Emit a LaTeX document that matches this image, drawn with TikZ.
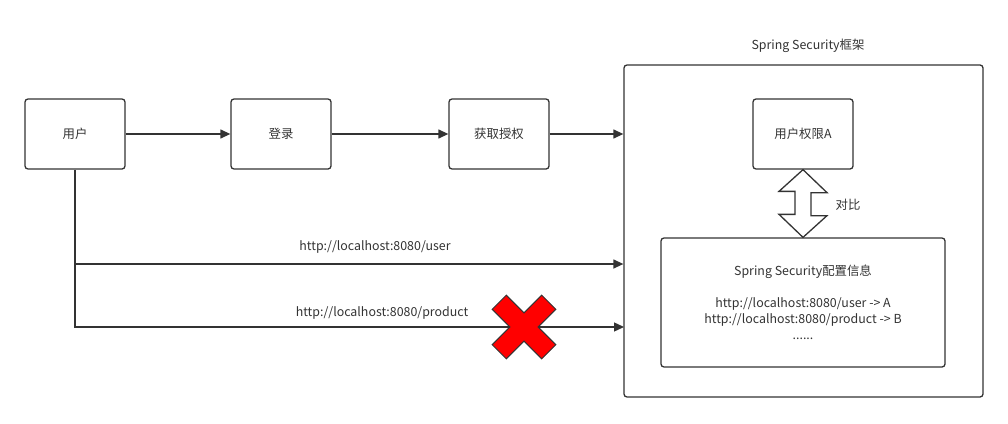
\documentclass[tikz,border=0pt]{standalone}
\usepackage{fontspec}
\setmainfont{Noto Sans CJK SC}
\usetikzlibrary{arrows.meta}
\definecolor{lineGray}{RGB}{51,51,51}
\definecolor{crossRed}{RGB}{255,0,0}

\begin{document}
\begin{tikzpicture}[x=1pt,y=-1pt,
  lbl/.style={text=lineGray,font=\fontsize{12.4}{16}\selectfont},
  box/.style={draw=lineGray,line width=1.3pt,rounded corners=3pt,minimum width=100pt,minimum height=70pt,inner sep=0pt,lbl},
  flow/.style={draw=lineGray,line width=1.3pt,-{Triangle[length=10pt,width=9pt]}}]
\useasboundingbox (0,0) rectangle (1008,423);
% top row
\node [box] (user) at (75,134) {用户};
\node [box] (login) at (281,134) {登录};
\node [box] (auth) at (499,134) {获取授权};
% framework
\node [box,minimum width=359pt,minimum height=332pt] (frame) at (803.5,231) {};
\node [lbl] (title) at (808,46) {Spring Security框架};
\node [box] (perm) at (803,134) {用户权限A};
\node [box,minimum width=284pt,minimum height=129pt,align=center] (cfg) at (803,302.5)
  {Spring Security配置信息\\[16pt]http://localhost:8080/user -> A\\http://localhost:8080/product -> B\\......};
\node [lbl] (cmp) at (848,205) {对比};
\draw [lineGray,line width=1.3pt,fill=white,line join=miter] (perm.south) -- ++(24,23) -- ++(-16,0) -- ++(0,23) -- ++(16,0)
  -- (cfg.north) -- ++(-24,-23) -- ++(16,0) -- ++(0,-23) -- ++(-16,0) -- cycle;
% requests
\coordinate (userFork) at (75,264);
\coordinate (userIn) at (frame.west |- userFork);
\coordinate (prodIn) at (624,327);
\draw [flow] (user) -- (login);
\draw [flow] (login) -- (auth);
\draw [flow] (auth.east) -- (auth.east -| frame.west);
\draw [flow] (userFork) -- (userIn);
\draw [flow] (user.south) |- (prodIn);
\node [lbl] (userUrl) at (375,247) {http://localhost:8080/user};
\node [lbl] (prodUrl) at (382,313) {http://localhost:8080/product};
% denied
\begin{scope}[shift={(524,327)},rotate=45]
\fill [crossRed,draw=lineGray,line width=1pt] (10,35) -- (10,10) -- (35,10) -- (35,-10) -- (10,-10) -- (10,-35) -- (-10,-35)
  -- (-10,-10) -- (-35,-10) -- (-35,10) -- (-10,10) -- (-10,35) -- cycle;
\end{scope}
\end{tikzpicture}
\end{document}
